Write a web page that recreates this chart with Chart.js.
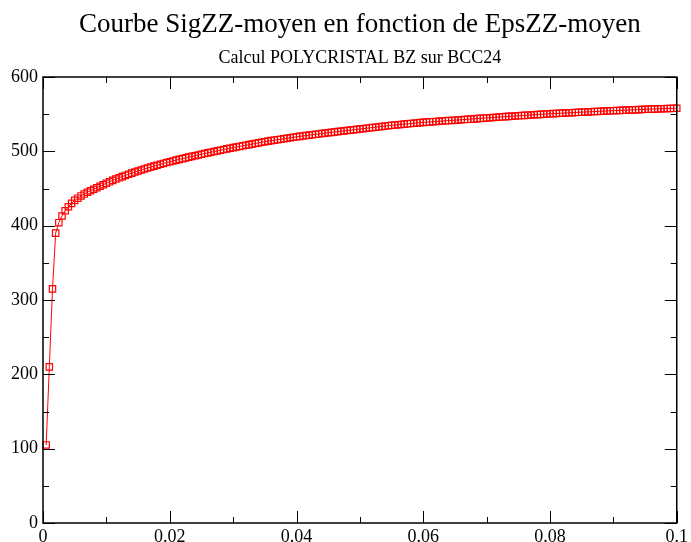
<!DOCTYPE html>
<html><head><meta charset="utf-8">
<script src="https://cdn.jsdelivr.net/npm/chart.js@4/dist/chart.umd.min.js"></script>
<style>html,body{margin:0;padding:0;background:#fff;overflow:hidden}#wrap{width:691px;height:542px}</style>
</head><body><div id="wrap"><canvas id="c" width="691" height="542"></canvas></div>
<script>
const titleText = "Courbe SigZZ-moyen en fonction de EpsZZ-moyen";
const subtitleText = "Calcul POLYCRISTAL BZ sur BCC24";

const epsZZ = [
0.0005,0.001,0.0015,0.002,0.0025,0.003,0.0035,0.004,0.0045,0.005,
0.0055,0.006,0.0065,0.007,0.0075,0.008,0.0085,0.009,0.0095,0.01,
0.0105,0.011,0.0115,0.012,0.0125,0.013,0.0135,0.014,0.0145,0.015,
0.0155,0.016,0.0165,0.017,0.0175,0.018,0.0185,0.019,0.0195,0.02,
0.0205,0.021,0.0215,0.022,0.0225,0.023,0.0235,0.024,0.0245,0.025,
0.0255,0.026,0.0265,0.027,0.0275,0.028,0.0285,0.029,0.0295,0.03,
0.0305,0.031,0.0315,0.032,0.0325,0.033,0.0335,0.034,0.0345,0.035,
0.0355,0.036,0.0365,0.037,0.0375,0.038,0.0385,0.039,0.0395,0.04,
0.0405,0.041,0.0415,0.042,0.0425,0.043,0.0435,0.044,0.0445,0.045,
0.0455,0.046,0.0465,0.047,0.0475,0.048,0.0485,0.049,0.0495,0.05,
0.0505,0.051,0.0515,0.052,0.0525,0.053,0.0535,0.054,0.0545,0.055,
0.0555,0.056,0.0565,0.057,0.0575,0.058,0.0585,0.059,0.0595,0.06,
0.0605,0.061,0.0615,0.062,0.0625,0.063,0.0635,0.064,0.0645,0.065,
0.0655,0.066,0.0665,0.067,0.0675,0.068,0.0685,0.069,0.0695,0.07,
0.0705,0.071,0.0715,0.072,0.0725,0.073,0.0735,0.074,0.0745,0.075,
0.0755,0.076,0.0765,0.077,0.0775,0.078,0.0785,0.079,0.0795,0.08,
0.0805,0.081,0.0815,0.082,0.0825,0.083,0.0835,0.084,0.0845,0.085,
0.0855,0.086,0.0865,0.087,0.0875,0.088,0.0885,0.089,0.0895,0.09,
0.0905,0.091,0.0915,0.092,0.0925,0.093,0.0935,0.094,0.0945,0.095,
0.0955,0.096,0.0965,0.097,0.0975,0.098,0.0985,0.099,0.0995,0.1
];

const sigZZ = [
105,210,315,390,404,413,420,425.5,430,434,
437,440,442.5,445,447,449,451,453,455,457,
459.0,460.9,462.7,464.4,466.0,467.6,469.2,470.7,472.1,473.5,
474.9,476.3,477.6,478.8,480.1,481.3,482.5,483.7,484.9,486.0,
487.1,488.2,489.2,490.2,491.2,492.2,493.2,494.1,495.1,496.0,
497.0,497.9,498.8,499.7,500.6,501.5,502.4,503.3,504.1,505.0,
505.8,506.6,507.4,508.2,509.0,509.8,510.6,511.4,512.2,513.0,
513.7,514.4,515.0,515.7,516.3,517.0,517.6,518.3,518.9,519.5,
520.1,520.7,521.2,521.8,522.3,522.9,523.4,523.9,524.5,525.0,
525.5,526.0,526.5,527.0,527.5,528.0,528.5,529.0,529.5,530.0,
530.5,531.0,531.5,532.0,532.5,533.0,533.5,534.0,534.5,535.0,
535.4,535.8,536.2,536.6,537.0,537.4,537.8,538.2,538.6,539.0,
539.3,539.6,539.9,540.2,540.5,540.8,541.1,541.4,541.6,541.9,
542.2,542.5,542.8,543.1,543.4,543.7,544.0,544.3,544.6,544.9,
545.2,545.5,545.8,546.1,546.4,546.7,547.0,547.2,547.5,547.8,
548.1,548.4,548.6,548.9,549.2,549.4,549.7,550.0,550.2,550.5,
550.7,550.9,551.2,551.4,551.6,551.8,552.0,552.3,552.5,552.7,
552.9,553.1,553.3,553.5,553.7,553.9,554.1,554.3,554.5,554.7,
554.9,555.0,555.2,555.4,555.6,555.8,555.9,556.1,556.3,556.5,
556.7,556.8,557.0,557.1,557.3,557.4,557.6,557.7,557.9,558.0
];

const xTickValues = [0, 0.02, 0.04, 0.06, 0.08, 0.1];
const xTickLabels = ["0", "0.02", "0.04", "0.06", "0.08", "0.1"];
const xMinorTicks = [0.01, 0.03, 0.05, 0.07, 0.09];
const yTickValues = [0, 100, 200, 300, 400, 500, 600];
const yTickLabels = ["0", "100", "200", "300", "400", "500", "600"];
const yMinorTicks = [50, 150, 250, 350, 450, 550];

const FONT = "'Liberation Serif', 'Times New Roman', serif";

const frameTicks = {
  id: 'frameTicks',
  afterDatasetsDraw(chart) {
    const { ctx, chartArea: a, scales: { x, y } } = chart;
    ctx.save();
    ctx.strokeStyle = '#000';
    ctx.lineWidth = 1;
    ctx.beginPath();
    const seg = (x1, y1, x2, y2) => { ctx.moveTo(x1, y1); ctx.lineTo(x2, y2); };
    const xt = (vals, len) => vals.forEach(v => {
      const px = Math.round(x.getPixelForValue(v)) + 0.5;
      seg(px, a.bottom, px, a.bottom - len);
      seg(px, a.top, px, a.top + len);
    });
    const yt = (vals, len) => vals.forEach(v => {
      const py = Math.round(y.getPixelForValue(v)) + 0.5;
      seg(a.left, py, a.left + len, py);
      seg(a.right, py, a.right - len, py);
    });
    xt(xTickValues, 12); xt(xMinorTicks, 6);
    yt(yTickValues, 12); yt(yMinorTicks, 6);
    ctx.stroke();
    ctx.lineWidth = 1.5;
    ctx.strokeRect(a.left, a.top, a.right - a.left, a.bottom - a.top);
    ctx.restore();
  }
};

new Chart(document.getElementById('c'), {
  type: 'line',
  data: {
    datasets: [{
      data: epsZZ.map((e, i) => ({ x: e, y: sigZZ[i] })),
      borderColor: '#ff0000',
      borderWidth: 1,
      pointStyle: 'rect',
      pointRadius: 4.5,
      pointBorderWidth: 1.2,
      pointBorderColor: '#ff0000',
      pointBackgroundColor: 'rgba(0,0,0,0)',
      fill: false,
      tension: 0,
      clip: false
    }]
  },
  options: {
    responsive: false,
    animation: false,
    devicePixelRatio: 1,
    layout: { padding: { left: 0, right: 10, top: 0, bottom: 0 } },
    plugins: {
      legend: { display: false },
      tooltip: { enabled: false },
      title: {
        display: true, text: titleText, fullSize: false, color: '#000',
        font: { family: FONT, size: 27, weight: 'normal' },
        padding: { top: 9, bottom: 2.8 }
      },
      subtitle: {
        display: true, text: subtitleText, fullSize: false, color: '#000',
        font: { family: FONT, size: 18, weight: 'normal' },
        padding: { top: 3, bottom: 8.2 }
      }
    },
    scales: {
      x: {
        type: 'linear', min: 0, max: 0.1,
        grid: { display: false, drawTicks: false },
        border: { display: false },
        afterBuildTicks(s) { s.ticks = xTickValues.map(v => ({ value: v })); },
        ticks: {
          callback: (v, i) => xTickLabels[i],
          color: '#000', font: { family: FONT, size: 18 },
          padding: 3, maxRotation: 0, autoSkip: false
        },
        afterFit(s) { s.height = 19; }
      },
      y: {
        type: 'linear', min: 0, max: 600,
        grid: { display: false, drawTicks: false },
        border: { display: false },
        afterBuildTicks(s) { s.ticks = yTickValues.map(v => ({ value: v })); },
        ticks: {
          callback: (v, i) => yTickLabels[i],
          color: '#000', font: { family: FONT, size: 18 },
          padding: 5, autoSkip: false
        },
        afterFit(s) { s.width = 43; }
      }
    }
  },
  plugins: [frameTicks]
});
</script>
</body></html>
